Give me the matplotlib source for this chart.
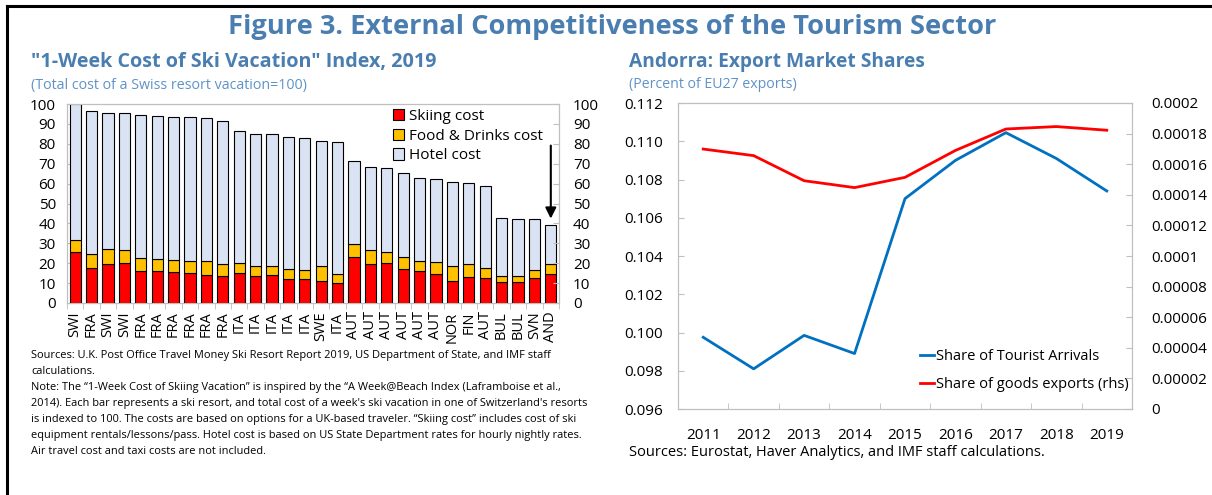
import matplotlib
matplotlib.use("Agg")
import matplotlib.pyplot as plt
import numpy as np
from matplotlib.patches import Patch
from matplotlib.lines import Line2D

plt.rcParams['font.family'] = ['Open Sans', 'DejaVu Sans']

# ---------------- Data ----------------
resorts = ["SWI", "FRA", "SWI", "SWI", "FRA", "FRA", "FRA", "FRA", "FRA", "FRA",
           "ITA", "ITA", "ITA", "ITA", "ITA", "SWE", "ITA", "AUT", "AUT", "AUT",
           "AUT", "AUT", "AUT", "NOR", "FIN", "AUT", "BUL", "BUL", "SVN", "AND"]
skiing = [25.6, 17.6, 19.6, 19.9, 16.2, 15.9, 15.6, 15.2, 14.2, 13.5,
          15.2, 13.5, 14.0, 12.0, 12.0, 11.2, 10.0, 23.1, 19.7, 20.1,
          17.1, 16.1, 14.5, 11.2, 12.9, 12.7, 10.5, 10.5, 12.5, 14.7]
food = [6.2, 7.0, 7.3, 6.7, 6.4, 6.2, 6.0, 6.0, 6.9, 6.1,
        5.0, 5.2, 4.6, 5.2, 4.7, 7.2, 4.7, 6.5, 6.7, 5.7,
        6.0, 5.0, 5.9, 7.5, 6.8, 4.7, 3.0, 3.0, 4.1, 4.9]
total = [100.0, 96.7, 95.3, 95.3, 94.6, 94.1, 93.6, 93.3, 92.8, 91.3,
         86.5, 85.0, 84.8, 83.3, 83.1, 81.4, 80.8, 71.6, 68.4, 67.7,
         65.1, 63.0, 62.4, 61.0, 60.4, 59.0, 42.6, 42.3, 42.0, 39.1]

years = ["2011", "2012", "2013", "2014", "2015", "2016", "2017", "2018", "2019"]
tourist_arrivals = [0.09975, 0.0981, 0.09985, 0.0989, 0.1070, 0.1090, 0.11045, 0.1091, 0.1074]
goods_exports = [0.0001699, 0.0001656, 0.0001492, 0.0001447, 0.0001514, 0.0001690,
                 0.0001830, 0.0001846, 0.0001822]

# ---------------- Styles ----------------
W, H = 1212, 495
TITLE_C = "#4A7EB0"
SUB_C = "#5F93C6"
SPINE_C = "#BFBFBF"
RED = "#FF0000"
YEL = "#FFC000"
HOT = "#DAE3F3"
BLUE = "#0070C0"

fig = plt.figure(figsize=(W / 100, H / 100), dpi=100)

def fx(px):
    return px / W

def fy(py):
    return 1 - py / H

# frame lines (top and left)
fig.add_artist(Line2D([fx(7), 1.0], [fy(6), fy(6)], color="black", lw=2.2))
fig.add_artist(Line2D([fx(7), fx(7)], [fy(6), 0.0], color="black", lw=2.2))

fig.text(fx(612), fy(27), "Figure 3. External Competitiveness of the Tourism Sector",
         ha="center", va="center", fontsize=19.6, fontweight="bold", color=TITLE_C)
fig.text(fx(31), fy(62), "\"1-Week Cost of Ski Vacation\" Index, 2019",
         ha="left", va="center", fontsize=14.2, fontweight="bold", color=TITLE_C)
fig.text(fx(31), fy(85), "(Total cost of a Swiss resort vacation=100)",
         ha="left", va="center", fontsize=10.3, color=SUB_C)
fig.text(fx(629), fy(62), "Andorra: Export Market Shares",
         ha="left", va="center", fontsize=13.8, fontweight="bold", color=TITLE_C)
fig.text(fx(629), fy(85), "(Percent of EU27 exports)",
         ha="left", va="center", fontsize=10.2, color=SUB_C)

# ---------------- Left chart ----------------
ax1 = fig.add_axes([fx(67), fy(303), fx(559) - fx(67), fy(104) - fy(303)])
x = np.arange(len(resorts))
skiing_a = np.array(skiing)
food_a = np.array(food)
hotel_a = np.array(total) - skiing_a - food_a
bw = 0.68
ax1.bar(x, skiing_a, width=bw, color=RED, edgecolor="black", linewidth=0.8, zorder=3)
ax1.bar(x, food_a, width=bw, bottom=skiing_a, color=YEL, edgecolor="black", linewidth=0.8, zorder=3)
ax1.bar(x, hotel_a, width=bw, bottom=skiing_a + food_a, color=HOT, edgecolor="black", linewidth=0.8, zorder=3)
ax1.set_xlim(-0.5, len(resorts) - 0.5)
ax1.set_ylim(0, 100)
ax1.set_yticks(np.arange(0, 101, 10))
ax1.set_xticks(x)
ax1.set_xticklabels(resorts, rotation=90, fontsize=10.5)
ax1.set_xticks(np.arange(-0.5, len(resorts), 1.0), minor=True)
ax1.tick_params(axis="x", which="major", length=0, pad=6)
ax1.tick_params(axis="x", which="minor", length=4, direction="out", color=SPINE_C)
ax1.tick_params(axis="y", direction="in", length=4, color=SPINE_C, labelsize=11, pad=8)
for s in ax1.spines.values():
    s.set_color(SPINE_C)
ax1r = ax1.twinx()
ax1r.set_ylim(0, 100)
ax1r.set_yticks(np.arange(0, 101, 10))
ax1r.tick_params(axis="y", direction="in", length=4, color=SPINE_C, labelsize=11, pad=10)
for s in ax1r.spines.values():
    s.set_color(SPINE_C)

handles = [Patch(facecolor=RED, edgecolor="black", linewidth=0.8, label="Skiing cost"),
           Patch(facecolor=YEL, edgecolor="black", linewidth=0.8, label="Food & Drinks cost"),
           Patch(facecolor=HOT, edgecolor="black", linewidth=0.8, label="Hotel cost")]
ax1.legend(handles=handles, loc="upper left", bbox_to_anchor=(0.65, 1.005), frameon=False,
           fontsize=11, handlelength=0.75, handleheight=0.75, handletextpad=0.3,
           labelspacing=0.3, borderaxespad=0)

ax1.annotate("", xy=(len(resorts) - 1, 41.0), xytext=(len(resorts) - 1, 80.5),
             arrowprops=dict(arrowstyle="-|>", color="black", lw=1.5, mutation_scale=16),
             zorder=5)

note = ("Sources: U.K. Post Office Travel Money Ski Resort Report 2019, US Department of State, and IMF staff\n"
        "calculations.\n"
        "Note: The \u201c1-Week Cost of Skiing Vacation\u201d is inspired by the \u201cA Week@Beach Index (Laframboise et al.,\n"
        "2014). Each bar represents a ski resort, and total cost of a week's ski vacation in one of Switzerland's resorts\n"
        "is indexed to 100. The costs are based on options for a UK-based traveler. \u201cSkiing cost\u201d includes cost of ski\n"
        "equipment rentals/lessons/pass. Hotel cost is based on US State Department rates for hourly nightly rates.\n"
        "Air travel cost and taxi costs are not included.")
fig.text(fx(31), fy(350), note, ha="left", va="top", fontsize=7.9, linespacing=1.62)

# ---------------- Right chart ----------------
ax2 = fig.add_axes([fx(678), fy(409), fx(1132) - fx(678), fy(103) - fy(409)])
xi = np.arange(len(years))
l1, = ax2.plot(xi, tourist_arrivals, color=BLUE, lw=2.0, label="Share of Tourist Arrivals")
ax2.set_ylim(0.096, 0.112)
ax2.set_yticks(np.arange(0.096, 0.1121, 0.002))
ax2.set_yticklabels([f"{v:.3f}" for v in np.arange(0.096, 0.1121, 0.002)])
ax2.set_xlim(-0.5, len(years) - 0.5)
ax2.set_xticks(xi)
ax2.set_xticklabels(years, fontsize=11)
ax2.set_xticks(np.arange(-0.5, len(years), 1.0), minor=True)
ax2.tick_params(axis="x", which="major", length=0, pad=14)
ax2.tick_params(axis="x", which="minor", length=4, direction="in", color=SPINE_C)
ax2.tick_params(axis="y", direction="in", length=4, color=SPINE_C, labelsize=11, pad=11)
for s in ax2.spines.values():
    s.set_color(SPINE_C)

ax2r = ax2.twinx()
l2, = ax2r.plot(xi, goods_exports, color=RED, lw=2.0, label="Share of goods exports (rhs)")
ax2r.set_ylim(0, 0.0002)
rt = np.arange(0, 11) * 0.00002
ax2r.set_yticks(rt)
ax2r.set_yticklabels(["0" if i == 0 else ("%.5f" % v).rstrip("0") for i, v in enumerate(rt)])
ax2r.tick_params(axis="y", direction="in", length=4, color=SPINE_C, labelsize=11, pad=14)
for s in ax2r.spines.values():
    s.set_color(SPINE_C)

ax2r.legend(handles=[l1, l2], loc="lower left", bbox_to_anchor=(0.52, 0.035), frameon=False,
            fontsize=10.5, handlelength=1.0, handletextpad=0.1, labelspacing=0.9, borderaxespad=0)

fig.text(fx(629), fy(452), "Sources: Eurostat, Haver Analytics, and IMF staff calculations.",
         ha="left", va="center", fontsize=10.5)

fig.savefig("out.png", dpi=100)
